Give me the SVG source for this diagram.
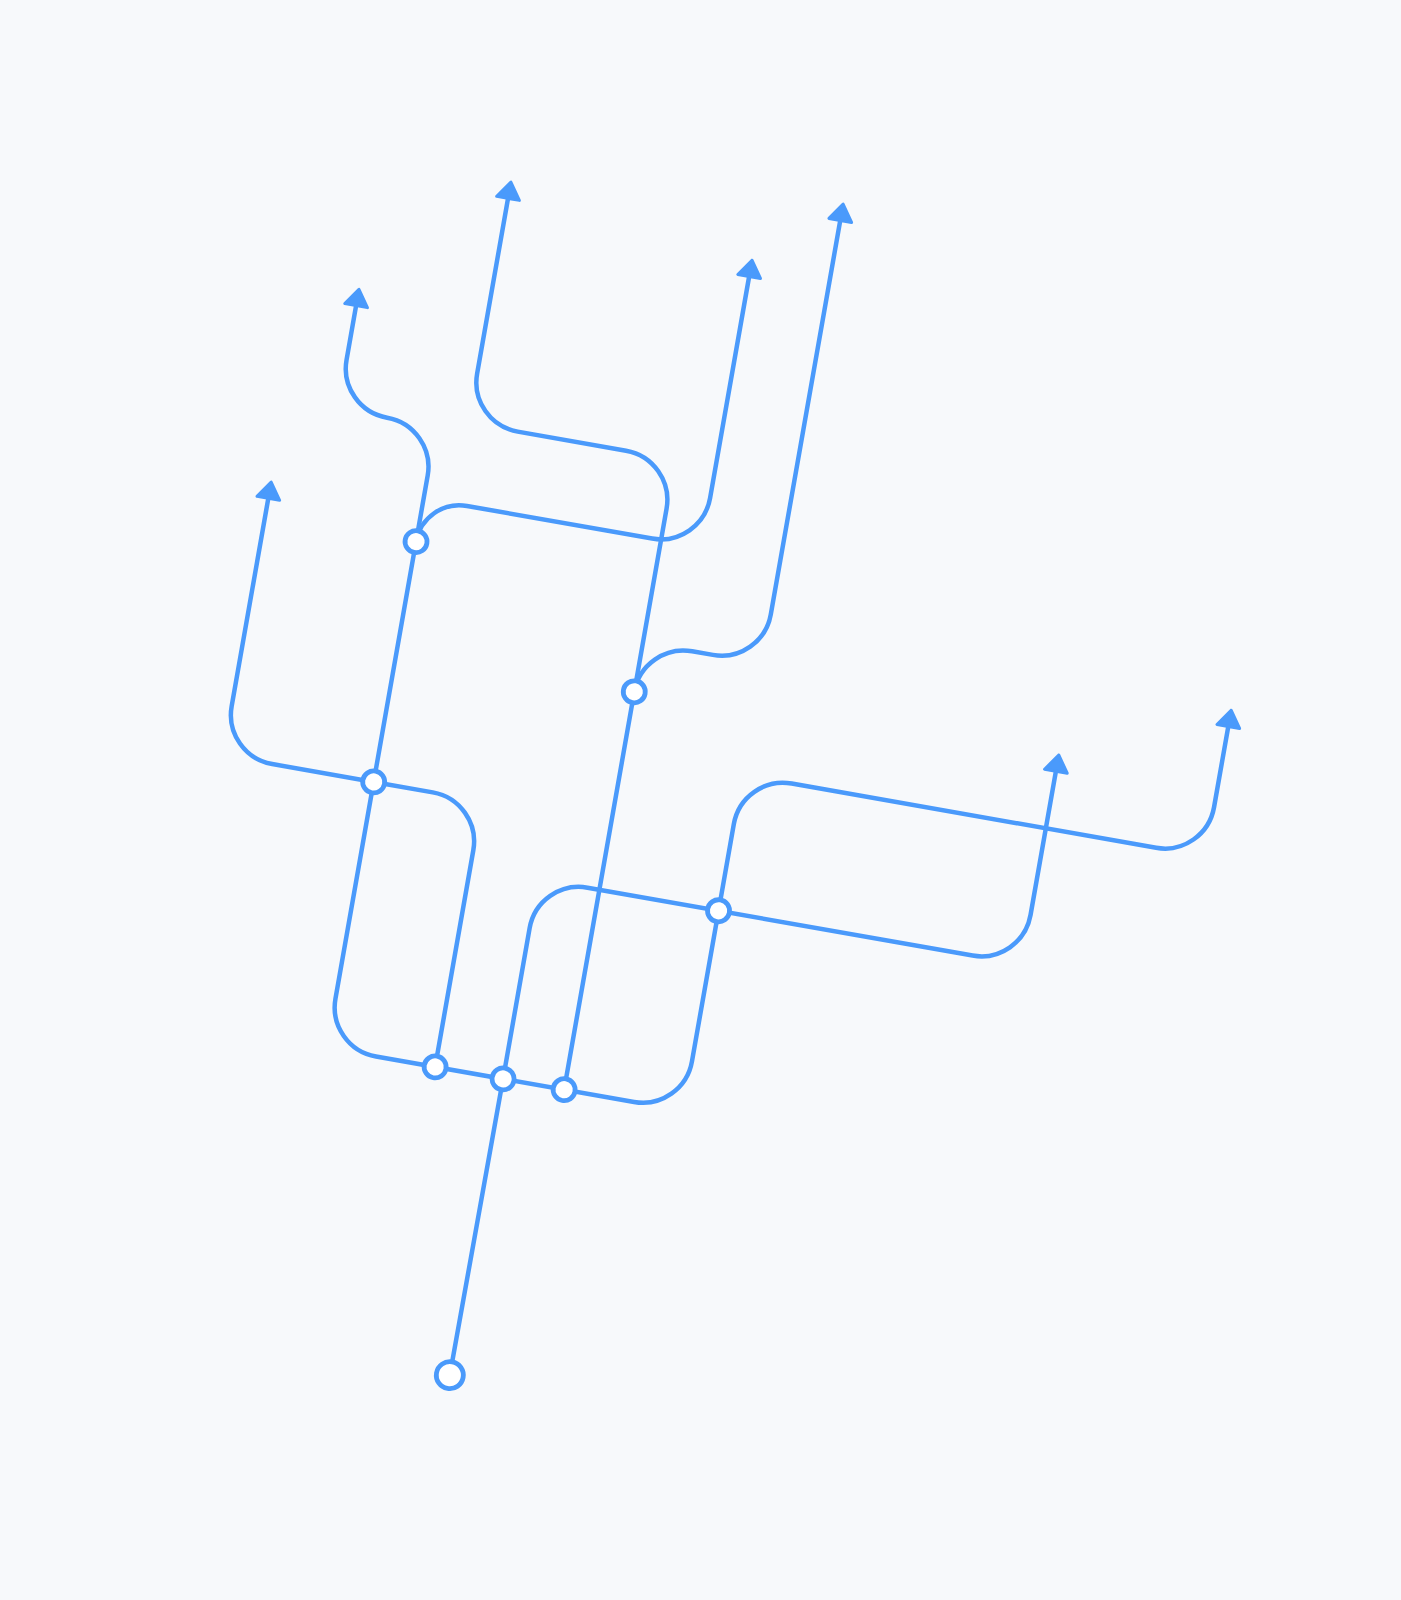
<svg xmlns="http://www.w3.org/2000/svg" width="1401" height="1600" viewBox="0 0 1401 1600">
<style>
.e{fill:none;stroke:#4a9afb;stroke-width:4.5;stroke-linecap:round;stroke-linejoin:round}
.h{fill:#4a9afb;stroke:#4a9afb;stroke-width:3;stroke-linejoin:round}
.n{fill:#ffffff;stroke:#4a9afb;stroke-width:4.8}
</style>
<defs>
<path id="ah" d="M0 1.5 L-11.5 18 L11.5 18 Z"/>
</defs>
<rect width="1401" height="1600" fill="#f7f9fb"/>
<g transform="translate(449 1374) rotate(10)">
<g id="connectors">
<path class="e" d="M1 1 L2 -300 V-453 A50 50 0 0 1 52 -503 H443 A50 50 0 0 0 493 -553 V-702"/>
<path class="e" d="M-177 -570 V-350 A50 50 0 0 0 -127 -300 H135 A50 50 0 0 0 185 -350 V-503"/>
<path class="e" d="M185 -503 V-591 A50 50 0 0 1 235 -641 H605 A50 50 0 0 0 655 -691 V-776"/>
<path class="e" d="M-177 -570 H-280 A50 50 0 0 1 -330 -620 V-834"/>
<path class="e" d="M-177 -570 H-117 A50 50 0 0 1 -67 -520 V-300"/>
<path class="e" d="M-177 -570 V-881 A50 50 0 0 0 -227 -931 A50 50 0 0 1 -277 -981 V-1039"/>
<path class="e" d="M-177 -814 A44 44 0 0 1 -133 -858 H55 A50 50 0 0 0 105 -908 V-1136"/>
<path class="e" d="M64 -300 V-890 A50 50 0 0 0 14 -940 H-96 A50 50 0 0 1 -146 -990 V-1171"/>
<path class="e" d="M64 -704 A50 50 0 0 1 114 -754 H135 A50 50 0 0 0 185 -804 V-1207"/>
<use href="#ah" class="h" x="493" y="-717"/>
<use href="#ah" class="h" x="655" y="-791"/>
<use href="#ah" class="h" x="-330" y="-849"/>
<use href="#ah" class="h" x="-277" y="-1054"/>
<use href="#ah" class="h" x="105" y="-1151"/>
<use href="#ah" class="h" x="-146" y="-1186"/>
<use href="#ah" class="h" x="185" y="-1222"/>
</g>
<g id="root"><circle class="n" cx="1" cy="1" r="13.5" stroke-width="4.3"/></g>
<g id="nodeA"><circle class="n" cx="-67" cy="-300" r="11"/></g>
<g id="nodeB"><circle class="n" cx="2" cy="-300" r="11"/></g>
<g id="nodeC"><circle class="n" cx="64" cy="-300" r="11"/></g>
<g id="nodeE"><circle class="n" cx="-177" cy="-570" r="11"/></g>
<g id="nodeD"><circle class="n" cx="-177" cy="-814" r="11"/></g>
<g id="nodeF"><circle class="n" cx="64" cy="-704" r="11"/></g>
<g id="nodeG"><circle class="n" cx="185" cy="-503" r="11"/></g>
</g>
</svg>
